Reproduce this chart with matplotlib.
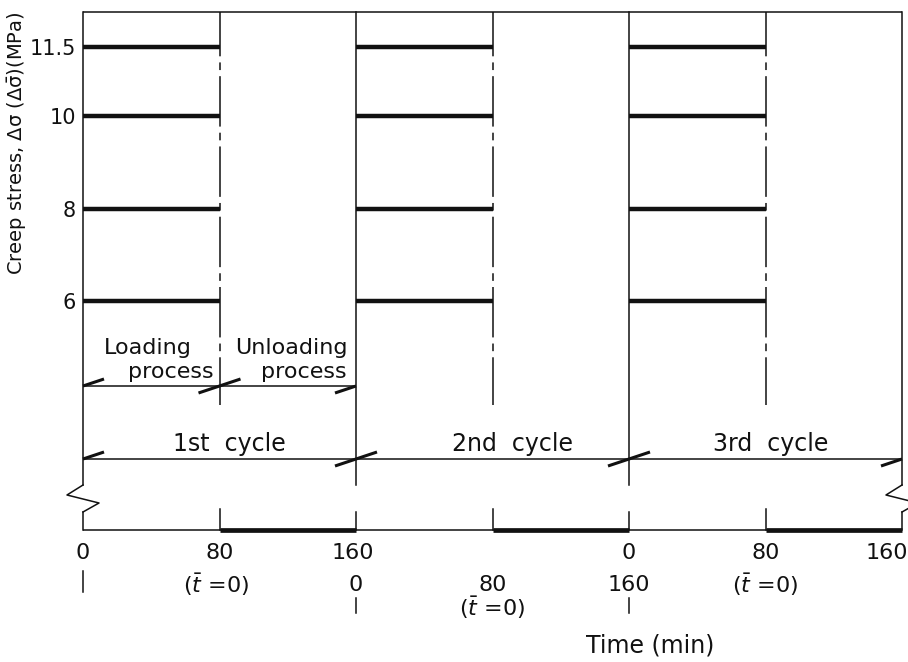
import matplotlib
matplotlib.use("Agg")
import matplotlib.pyplot as plt

# ---- values ----
STRESS = [6, 8, 10, 11.5]                 # creep stress levels (MPa)
STRESS_LABELS = ["6", "8", "10", "11.5"]
LOAD_START = [0, 160, 320]                # loading starts (min)
LOAD_END = [80, 240, 400]                 # loading ends = unloading starts
CYCLE_END = [160, 320, 480]
CYCLE_NAMES = ["1st  cycle", "2nd  cycle", "3rd  cycle"]
CYCLE_TICKS = ["0", "80", "160"]
TBAR0 = r"($\bar{t}$ =0)"
T_MAX = 480
Y_LO, Y_HI = 1.04, 12.26

INK = "#111111"
W, H = 908, 662
AX_L, AX_R, AX_T, AX_B = 83, 902, 12, 530   # axes box in image pixels
XPX = (AX_R - AX_L) / T_MAX
YPX = (AX_B - AX_T) / (Y_HI - Y_LO)


def ypx(p):
    """data y at image row p"""
    return Y_LO + (AX_B - p) / YPX


def xpx(p):
    """data x at image column p"""
    return (p - AX_L) / XPX


def slash(ax, x, y, part="full"):
    hx, hy = 21 / XPX, 7 / YPX
    x0, y0, x1, y1 = x - hx, y - hy, x + hx, y + hy
    if part == "right":
        x0, y0 = x, y
    elif part == "left":
        x1, y1 = x, y
    ax.plot([x0, x1], [y0, y1], color=INK, lw=2.2, solid_capstyle="butt", clip_on=False)


fig = plt.figure(figsize=(W / 100, H / 100), dpi=100)
ax = fig.add_axes([AX_L / W, (H - AX_B) / H, (AX_R - AX_L) / W, (AX_B - AX_T) / H])
ax.set_xlim(0, T_MAX)
ax.set_ylim(Y_LO, Y_HI)
for s in ax.spines.values():
    s.set_visible(False)
ax.set_xticks([])
ax.set_yticks(STRESS)
ax.set_yticklabels(STRESS_LABELS, fontsize=15, color=INK)
ax.tick_params(axis="y", length=0, pad=5)

thin = dict(color=INK, lw=1.1, clip_on=False)

# stress levels during loading
for a, b in zip(LOAD_START, LOAD_END):
    ax.hlines(STRESS, a, b, color=INK, lw=3.2)

# frame: top and bottom
ax.hlines(Y_HI, 0, T_MAX, **thin)
ax.hlines(Y_LO, 0, T_MAX, **thin)
ax.hlines([Y_LO] * 3, LOAD_END, CYCLE_END, color=INK, lw=3.4, clip_on=False)

# cycle boundaries (solid, broken near the bottom)
brk_top, brk_bot = ypx(485), ypx(512)
for x in [0] + CYCLE_END:
    ax.plot([x, x], [Y_HI, brk_top], **thin)
    ax.plot([x, x], [brk_bot, Y_LO], **thin)
    if x in (0, T_MAX):
        zx = 16 / XPX
        ax.plot([x, x - zx, x + zx, x], [brk_top, ypx(495), ypx(503), brk_bot], **thin)

# loading -> unloading switch (dash-dot)
for x in LOAD_END:
    ax.plot([x, x], [Y_HI, ypx(405)], color=INK, lw=1.1, linestyle=(4, (33, 4, 5, 4)), clip_on=False)
    ax.plot([x, x], [ypx(509), Y_LO], **thin)

# dimension lines
proc_y, cyc_y = ypx(386), ypx(459)
ax.hlines(proc_y, 0, CYCLE_END[0], **thin)
slash(ax, 0, proc_y, "right")
slash(ax, LOAD_END[0], proc_y)
slash(ax, CYCLE_END[0], proc_y, "left")

ax.hlines(cyc_y, 0, T_MAX, **thin)
slash(ax, 0, cyc_y, "right")
for x in CYCLE_END[:-1]:
    slash(ax, x, cyc_y)
slash(ax, T_MAX, cyc_y, "left")

txt = dict(fontsize=16, color=INK, ha="center", va="baseline")
ax.text(xpx(148), ypx(354), "Loading", **txt)
ax.text(xpx(171), ypx(378), "process", **txt)
ax.text(xpx(291), ypx(354), "Unloading", **txt)
ax.text(xpx(304), ypx(378), "process", **txt)
for xc, name in zip([86, 252, 403], CYCLE_NAMES):
    ax.text(xc, ypx(451), name, fontsize=17, color=INK, ha="center", va="baseline")

# time labels under the axis
rowA, rowB, rowC = ypx(553), ypx(585), ypx(608)
lab = dict(fontsize=16, color=INK, ha="center", va="center")
for t, s in zip([0] + LOAD_END[:1] + CYCLE_END[:1], CYCLE_TICKS):
    ax.text(t - (3 / XPX if s == "160" else 0), rowA, s, **lab)
for t, s in zip([CYCLE_END[0], LOAD_END[1], CYCLE_END[1]], CYCLE_TICKS):
    ax.text(t, rowB, s, **lab)
for t, s in zip([LOAD_START[2], LOAD_END[2], CYCLE_END[2]], CYCLE_TICKS):
    if t == T_MAX:
        ax.text(t - 15 / XPX, rowA, s, **lab)
    else:
        ax.text(t, rowA, s, **lab)
ax.text(LOAD_END[0] - 3 / XPX, rowB, TBAR0, **lab)
ax.text(LOAD_END[1], rowC, TBAR0, **lab)
ax.text(LOAD_END[2], rowB, TBAR0, **lab)
ax.plot([0, 0], [ypx(571), ypx(592)], **thin)
for x in CYCLE_END[:2]:
    ax.plot([x, x], [ypx(598), ypx(613)], **thin)

fig.text(650 / W, 1 - 645 / H, "Time (min)", fontsize=17, color=INK, ha="center", va="center")
fig.text(17 / W, 1 - 143 / H,
         r"Creep stress, $\Delta\mathrm{\sigma}$ ($\Delta\bar{\mathrm{\sigma}}$)(MPa)",
         fontsize=14, color=INK, rotation=90, ha="center", va="center")

fig.savefig("out.png", dpi=100)
